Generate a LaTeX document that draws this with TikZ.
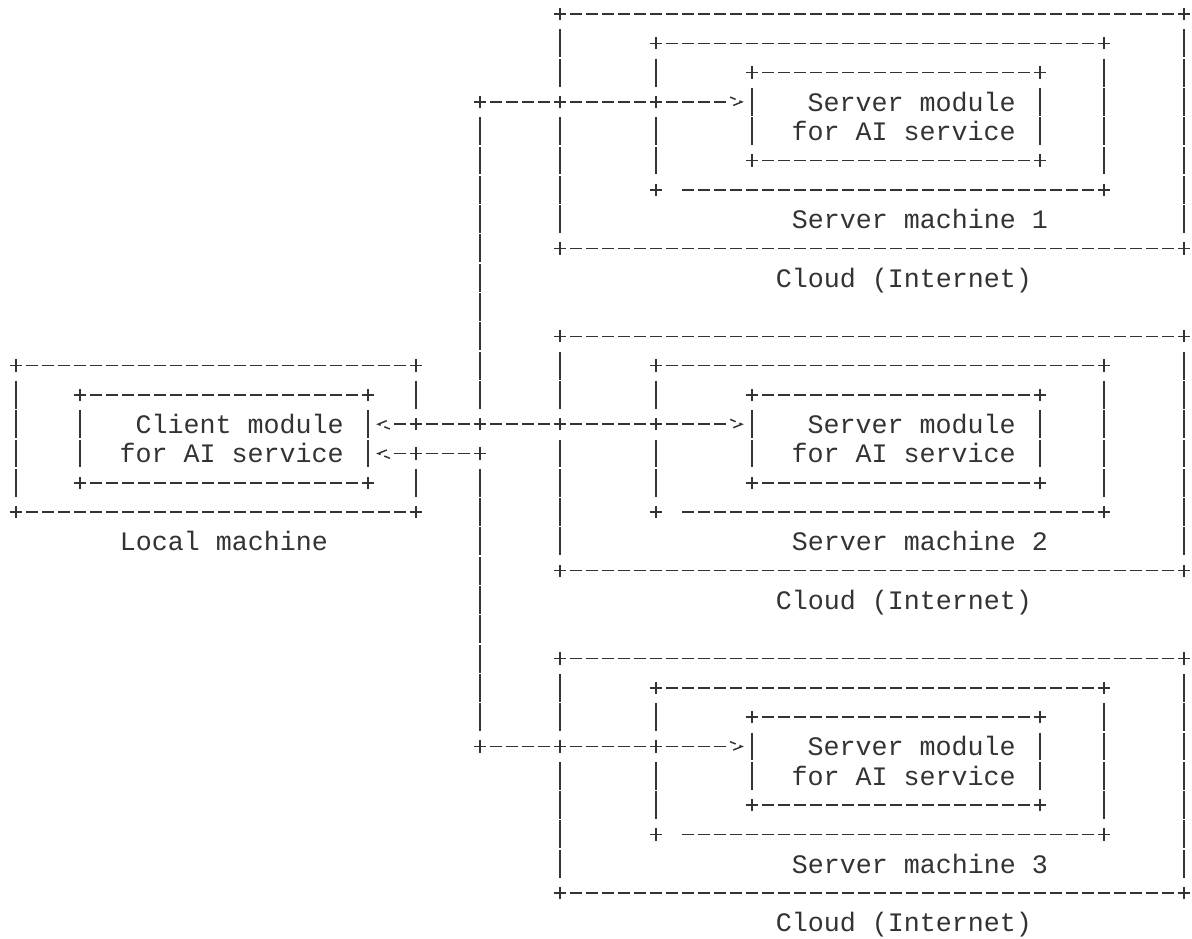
\documentclass[tikz,border=0pt]{standalone}
\usepackage{fontspec}
\setmonofont{Liberation Mono}
\usetikzlibrary{arrows.meta}

\definecolor{ink}{gray}{0.2}
\newcommand{\asciifont}{\ttfamily\fontsize{20pt}{21.975pt}\selectfont}

% open chevron, the line stops short of it
\pgfdeclarearrow{
  name = Chevron,
  parameters = {\the\pgfarrowlinewidth,\the\pgfarrowlength,\the\pgfarrowwidth},
  setup code = {
    \pgfarrowssettipend{0pt}
    \pgfarrowssetlineend{-11pt}
    \pgfarrowssetbackend{-\pgfarrowlength}
    \pgfarrowlinewidth=\pgflinewidth
    \pgfarrowssavethe\pgfarrowlength
    \pgfarrowssavethe\pgfarrowwidth
  },
  drawing code = {
    \pgfpathmoveto{\pgfqpoint{-\pgfarrowlength}{.5\pgfarrowwidth}}
    \pgfpathlineto{\pgfpointorigin}
    \pgfpathlineto{\pgfqpoint{-\pgfarrowlength}{-.5\pgfarrowwidth}}
    \pgfusepathqstroke
  },
  defaults = {length=8.8pt, width=7.2pt}
}

\tikzset{
  ascii/.style={ink, line width=1.1pt},
  hline/.style={ascii, dash pattern=on 9pt off 3pt, dash phase=4.5pt},
  vline/.style={ascii, dash pattern=on 20.9pt off 1.075pt, dash phase=21.4375pt,
    shorten <=10.9875pt, shorten >=10.9875pt},
  link/.style={hline, -Chevron, shorten >=7.6pt},
  txt/.style={font=\asciifont, text=ink, inner sep=0pt, yshift=-2.6pt},
  boxarea/.style={inner sep=0pt, outer sep=0pt},
  plusmark/.pic={\draw[ascii] (-4.8pt,0) -- (4.8pt,0) (0,-4.6pt) -- (0,4.6pt);},
}

% top and bottom edges of a frame, with its corners
\newcommand{\framelines}[1]{%
  \draw[hline] (#1.north west) -- (#1.north east);
  \draw[hline] (#1.south west) -- (#1.south east);
  \foreach \a in {north west,north east,south west,south east}
    \pic at (#1.\a) {plusmark};
}
\newcommand{\framesides}[1]{%
  \draw[vline] (#1.north west) -- (#1.south west);
  \draw[vline] (#1.north east) -- (#1.south east);
}

\begin{document}
\begin{tikzpicture}[x=12pt, y={(0pt,-21.975pt)}]
\useasboundingbox (-1,-0.478) rectangle (73.5,31.536);

% local machine
\node[boxarea, minimum width=300pt, minimum height=109.875pt] (local) at (12.5,14.5) {};
\node[boxarea, minimum width=216pt, minimum height=65.925pt] (client) at (13,14.5) {};
\node[txt, anchor=east, align=right] (clienttxt) at (20.5,14.5) {\strut Client module\\\strut for AI service};
\node[txt] (localtxt) at (13,18) {\strut Local machine};

% cloud blocks
\foreach \o/\k in {0/1,11/2,22/3}{
  \node[boxarea, minimum width=468pt, minimum height=175.8pt] (cloud\k) at (53.5,\o+4) {};
  \node[boxarea, minimum width=336pt, minimum height=109.875pt] (mach\k) at (54,\o+3.5) {};
  \node[boxarea, minimum width=216pt, minimum height=65.925pt] (mod\k) at (55,\o+3.5) {};
  \node[txt, anchor=east, align=right] (srv\k) at (62.5,\o+3.5) {\strut Server module\\\strut for AI service};
  \node[txt] (machtxt\k) at (56.5,\o+7) {\strut Server machine \k};
  \node[txt] (cloudtxt\k) at (55.5,\o+9) {\strut Cloud (Internet)};
  \coordinate (hub\k) at (29,\o+3);

  \framelines{cloud\k}
  \draw[vline] (cloud\k.north west) -- (cloud\k.west |- hub\k);
  \draw[vline] (cloud\k.west |- hub\k) -- (cloud\k.south west);
  \draw[vline] (cloud\k.north east) -- (cloud\k.south east);

  \draw[hline] (mach\k.north west) -- (mach\k.north east);
  \draw[hline] (mach\k.south east) -- ([xshift=18pt]mach\k.south west);
  \foreach \a in {north west,north east,south west,south east}
    \pic at (mach\k.\a) {plusmark};
  \draw[vline] (mach\k.north west) -- (mach\k.west |- hub\k);
  \draw[vline] (mach\k.west |- hub\k) -- (mach\k.south west);
  \draw[vline] (mach\k.north east) -- (mach\k.south east);

  \framelines{mod\k}
  \framesides{mod\k}

  \draw[link] (hub\k) -- (mod\k.west |- hub\k);
  \pic at (hub\k) {plusmark};
  \pic at (cloud\k.west |- hub\k) {plusmark};
  \pic at (mach\k.west |- hub\k) {plusmark};
}

\coordinate (hub2b) at (29,15);
\coordinate (port1) at (local.east |- hub2);
\coordinate (port2) at (local.east |- hub2b);

\framelines{local}
\draw[vline] (local.north west) -- (local.south west);
\draw[vline] (local.north east) -- (port1);
\draw[vline] (port2) -- (local.south east);
\framelines{client}
\framesides{client}

% bus and links to the client
\draw[vline] (hub1) -- (hub2);
\draw[vline] (hub2b) -- (hub3);
\draw[link] (hub2) -- (client.east |- hub2);
\draw[link] (hub2b) -- (client.east |- hub2b);
\foreach \p in {hub2b,port1,port2}
  \pic at (\p) {plusmark};

\end{tikzpicture}
\end{document}
